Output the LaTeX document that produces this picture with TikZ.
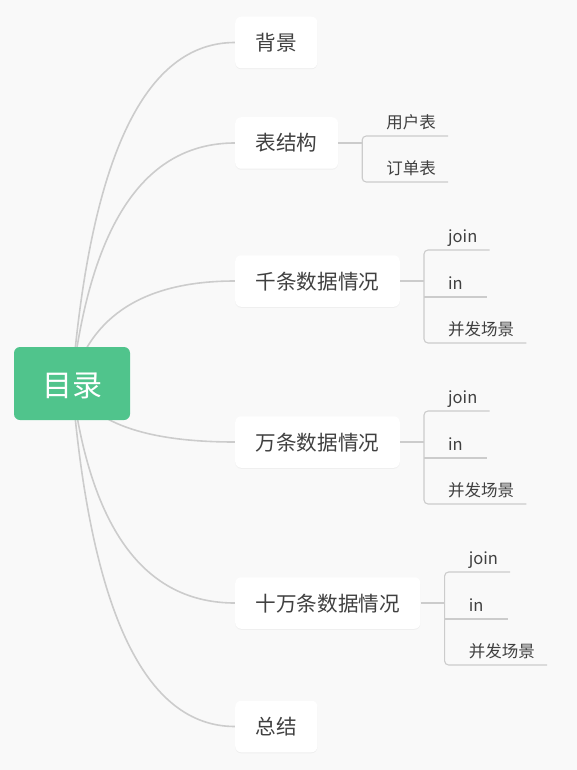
\documentclass[tikz,border=0pt]{standalone}
\usepackage{fontspec}
\newfontfamily\cjk{Noto Sans CJK SC}
\usetikzlibrary{positioning, calc, backgrounds, shadows}

\definecolor{rootgreen}{RGB}{80,196,140}
\definecolor{linegray}{RGB}{204,204,204}
\definecolor{textgray}{RGB}{64,64,64}
\definecolor{paper}{RGB}{249,249,249}

\tikzset{
    rootbox/.style={fill=rootgreen, rounded corners=6pt, minimum width=116pt, minimum height=73pt,
        text=white, font=\cjk\fontsize{30}{30}\selectfont, text height=26pt, text depth=0pt},
    topic/.style={fill=white, rounded corners=6pt, minimum height=51.5pt, inner xsep=20.5pt,
        text=textgray, font=\cjk\fontsize{20.6}{20.6}\selectfont, text height=18pt, text depth=2pt,
        anchor=west, drop shadow={shadow xshift=0pt, shadow yshift=-1pt, opacity=0.08}},
    leaf/.style={anchor=south west, inner xsep=12pt, inner ysep=4pt, text height=12pt,
        text depth=3pt, text=textgray, font=\cjk\fontsize{16.5}{16.5}\selectfont},
    shortleaf/.style={leaf, text width=27pt, align=left},
    curve/.style={draw=linegray, line width=1.6pt},
    stem/.style={draw=linegray, line width=1.3pt},
    uline/.style={draw=linegray, line width=1.1pt, rounded corners=4pt},
}

\begin{document}
\begin{tikzpicture}[x=1pt, y=-1pt]
    \useasboundingbox (0,0) rectangle (577,770);

    % Root and main topics
    \node[rootbox] (root) at (72,383.5) {目录};
    \node[topic] (b1) at (235,42.5) {背景};
    \node[topic] (b2) at (235,143) {表结构};
    \node[topic] (b3) at (235,281) {千条数据情况};
    \node[topic] (b4) at (235,442) {万条数据情况};
    \node[topic] (b5) at (235,603) {十万条数据情况};
    \node[topic] (b6) at (235,726.5) {总结};
    \coordinate (bend) at (100,0);

    % Sub topics of 表结构
    \coordinate (k2) at ([xshift=24pt]b2.east);
    \node[leaf] (k2-a) at ($(k2)+(12,-7)$) {用户表};
    \node[leaf] (k2-b) at ($(k2)+(12,39)$) {订单表};
    \draw[stem] (b2.east) -- (k2);
    \draw[uline] (k2-a.south east) -- (k2-a.south west -| k2) -- (k2-b.south west -| k2) -- (k2-b.south east);

    % Sub topics of the three data cases
    \foreach \i in {3,4,5} {
        \coordinate (k\i) at ([xshift=24pt]b\i.east);
        \node[leaf] (k\i-a) at ($(k\i)+(12,-31)$) {join};
        \node[shortleaf] (k\i-b) at ($(k\i)+(12,16)$) {in};
        \node[leaf] (k\i-c) at ($(k\i)+(12,62)$) {并发场景};
        \draw[stem] (b\i.east) -- (k\i);
        \draw[uline] (k\i-a.south east) -- (k\i-a.south west -| k\i) -- (k\i-c.south west -| k\i) -- (k\i-c.south east);
        \draw[uline] (k\i-b.south west -| k\i) -- (k\i-b.south east);
    }

    \begin{pgfonlayer}{background}
        \fill[paper] (0,0) rectangle (577,770);
        % Curves from the root to each topic
        \foreach \i in {1,...,6} {
            \draw[curve] (root.center) .. controls ($(root.center)!2/3!(b\i.west -| bend)$)
                and ($(b\i.west)!2/3!(b\i.west -| bend)$) .. (b\i.west);
        }
    \end{pgfonlayer}
\end{tikzpicture}
\end{document}
